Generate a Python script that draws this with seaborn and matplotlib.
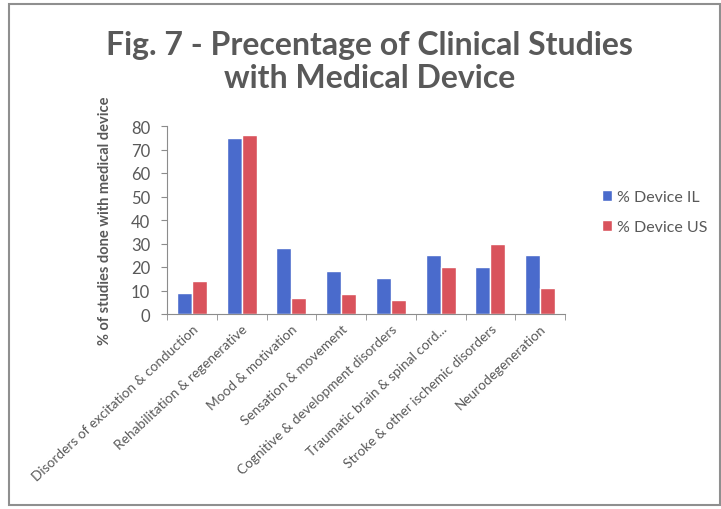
import numpy as np
import pandas as pd
import matplotlib
matplotlib.use("Agg")
import matplotlib.pyplot as plt
from matplotlib.patches import Rectangle, Patch
import seaborn as sns

# data
categories = ["Disorders of excitation & conduction", "Rehabilitation & regenerative",
              "Mood & motivation", "Sensation & movement",
              "Cognitive & development disorders", "Traumatic brain & spinal cord...",
              "Stroke & other ischemic disorders", "Neurodegeneration"]
device_il = [9, 75, 28, 18.5, 15.5, 25, 20, 25]
device_us = [14, 76, 7, 8.5, 6, 20, 30, 11]
series_names = ["% Device IL", "% Device US"]
colors = ["#4a6bcc", "#d9535c"]

df = pd.DataFrame({
    "category": categories * 2,
    "value": device_il + device_us,
    "series": [series_names[0]] * len(categories) + [series_names[1]] * len(categories),
})

sns.set_style("white")
plt.rcParams["font.family"] = ["Lato", "DejaVu Sans"]
txt = "#595959"

fig = plt.figure(figsize=(7.21, 5.10), dpi=100)
ax = fig.add_axes([167 / 721, 1 - 315 / 510, 398 / 721, 188 / 510])
sns.barplot(data=df, x="category", y="value", hue="series", palette=colors,
            width=0.6, saturation=1, ax=ax, legend=False)

ax.set_ylim(0, 80)
ax.set_xlim(-0.5, len(categories) - 0.5)
ax.set_yticks(np.arange(0, 81, 10))
ax.tick_params(axis="y", labelsize=12, labelcolor=txt, length=4, color="#8c8c8c",
               direction="out", left=True, pad=8)
ax.set_xticks(range(len(categories)))
ax.set_xticklabels(categories, rotation=43, ha="right", rotation_mode="anchor",
                   fontsize=9.8, color=txt)
ax.tick_params(axis="x", length=0, pad=6)
ax.set_xticks(np.arange(-0.5, len(categories), 1), minor=True)
ax.tick_params(axis="x", which="minor", length=4, color="#8c8c8c", direction="out", bottom=True)
for s in ["top", "right"]:
    ax.spines[s].set_visible(False)
for s in ["left", "bottom"]:
    ax.spines[s].set_color("#8c8c8c")
    ax.spines[s].set_linewidth(0.8)
ax.set_xlabel("")
ax.set_ylabel("% of studies done with medical device", fontsize=10.5, fontweight="bold",
              color=txt, labelpad=14)

fig.text(0.513, 0.94, "Fig. 7 - Precentage of Clinical Studies\nwith Medical Device",
         ha="center", va="top", fontsize=23, fontweight="bold", color=txt, linespacing=1.2)

handles = [Patch(facecolor=c) for c in colors]
fig.legend(handles, series_names, loc="center left", bbox_to_anchor=(0.815, 0.582),
           frameon=False, fontsize=11.5, labelcolor=txt, handlelength=0.6, handleheight=0.6,
           handletextpad=0.35, labelspacing=1.0)

fig.patches.append(Rectangle((0.013, 0.008), 0.985, 0.982, transform=fig.transFigure,
                             fill=False, edgecolor="#8f8f8f", linewidth=1.5))

fig.savefig("out.png", dpi=100, facecolor="white")
